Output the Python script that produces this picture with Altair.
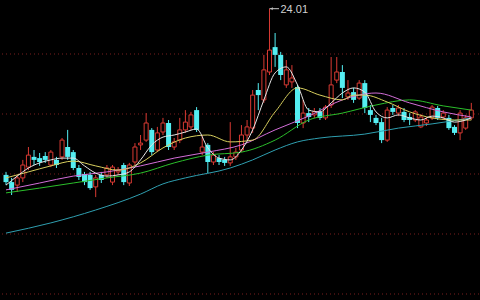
import altair as alt
import pandas as pd

# ---- candle data (one entry per trading day, left to right) ----
opens = [18.47, 18.23, 18.13, 18.37, 18.73, 19.07, 19.03, 19.10, 18.80, 18.97,
         19.07, 19.40, 19.23, 18.70, 18.50, 18.47, 18.07, 18.47, 18.47, 18.23,
         18.57, 18.80, 18.20, 18.90, 19.47, 19.63, 19.97, 19.30, 19.90, 20.20,
         19.40, 19.63, 19.97, 20.07, 20.63, 19.23, 19.47, 18.90, 19.03, 18.97,
         18.87, 19.07, 19.30, 19.80, 20.03, 21.30, 20.97, 21.90, 22.73, 22.47,
         21.47, 21.57, 21.40, 20.20, 20.53, 20.47, 20.57, 20.37, 20.80, 21.63,
         21.90, 21.07, 21.23, 21.03, 21.53, 20.63, 20.37, 20.23, 19.63, 20.70,
         20.53, 20.57, 20.40, 20.30, 20.07, 20.20, 20.37, 20.70, 20.40, 20.37,
         20.07, 19.87, 20.03, 20.37]
highs = [18.57, 18.37, 18.47, 18.97, 19.40, 19.30, 19.20, 19.23, 19.30, 19.07,
         19.70, 19.97, 19.30, 18.80, 18.57, 18.57, 18.47, 18.57, 18.80, 18.80,
         18.73, 18.87, 18.87, 19.53, 19.80, 20.53, 20.03, 20.07, 20.37, 20.30,
         19.70, 20.37, 20.63, 20.57, 20.73, 19.80, 19.53, 19.23, 19.13, 19.07,
         20.23, 19.37, 20.13, 20.30, 21.30, 21.53, 22.47, 24.01, 23.20, 22.57,
         22.30, 22.13, 21.47, 20.97, 20.70, 20.70, 20.70, 20.80, 22.40, 22.40,
         22.13, 21.63, 21.37, 21.63, 21.63, 20.80, 20.47, 20.37, 20.73, 20.80,
         20.80, 20.70, 20.53, 20.63, 20.50, 20.40, 20.80, 20.77, 20.63, 20.47,
         20.13, 20.63, 20.47, 20.87]
lows = [18.13, 17.80, 17.90, 18.23, 18.63, 18.80, 18.77, 18.87, 18.73, 18.70,
        18.97, 18.97, 18.63, 18.30, 18.13, 17.97, 17.73, 18.20, 18.37, 18.13,
        18.47, 18.13, 18.10, 18.80, 19.30, 19.57, 19.13, 19.23, 19.80, 19.30,
        19.30, 19.53, 19.87, 19.97, 19.90, 19.13, 18.53, 18.80, 18.80, 18.77,
        18.77, 18.97, 19.23, 19.63, 19.87, 20.63, 20.87, 21.80, 22.07, 21.63,
        21.37, 21.37, 20.03, 20.03, 20.23, 20.37, 20.30, 20.30, 20.70, 21.53,
        21.03, 20.97, 20.87, 20.97, 20.53, 20.23, 20.13, 19.53, 19.57, 20.47,
        20.43, 20.23, 20.13, 20.23, 20.03, 20.10, 20.30, 20.30, 20.30, 19.97,
        19.80, 19.63, 19.97, 20.30]
closes = [18.23, 17.97, 18.37, 18.80, 19.13, 18.97, 18.90, 18.97, 19.23, 18.80,
          19.63, 19.07, 18.70, 18.40, 18.23, 18.03, 18.37, 18.30, 18.70, 18.73,
          18.63, 18.23, 18.80, 19.40, 19.53, 20.20, 19.23, 19.87, 20.20, 19.40,
          19.57, 19.97, 20.23, 20.47, 19.97, 19.40, 18.90, 19.13, 18.90, 18.87,
          19.07, 19.23, 19.80, 20.07, 21.13, 21.13, 21.97, 22.63, 22.47, 21.80,
          21.97, 21.70, 20.20, 20.53, 20.40, 20.57, 20.37, 20.73, 21.47, 21.90,
          21.37, 21.20, 20.97, 21.53, 20.70, 20.47, 20.20, 19.63, 20.63, 20.57,
          20.70, 20.30, 20.30, 20.57, 20.40, 20.30, 20.73, 20.37, 20.53, 20.03,
          19.87, 20.53, 20.37, 20.63]

# ---- moving averages (day index, value) ----
ma5_idx = [0, 2, 4, 6, 8, 10, 12, 14, 16, 18, 20, 22, 24, 26, 28, 30, 32, 34, 36, 38, 40,
           42, 44, 46, 48, 50, 52, 54, 56, 58, 60, 62, 64, 66, 68, 70, 72, 74, 76, 78, 80, 82, 83]
ma5_val = [18.13, 18.43, 18.70, 18.87, 18.97, 19.03, 19.03, 18.77, 18.53, 18.43, 18.47,
           18.57, 18.97, 19.47, 19.73, 19.80, 19.90, 20.00, 19.37, 19.03, 18.97, 19.30,
           19.97, 20.97, 21.87, 22.07, 21.47, 20.63, 20.57, 20.87, 21.20, 21.37, 21.23,
           20.57, 20.37, 20.47, 20.37, 20.30, 20.43, 20.37, 20.23, 20.30, 20.37]
ma10_idx = [0, 4, 8, 12, 16, 20, 24, 28, 32, 36, 40, 44, 48, 52, 56, 60, 62, 64, 68, 72, 76, 80, 83]
ma10_val = [18.37, 18.57, 18.77, 18.93, 18.77, 18.63, 18.87, 19.37, 19.70, 19.80, 19.57,
            19.63, 20.57, 21.37, 21.13, 20.97, 21.13, 21.13, 20.90, 20.57, 20.37, 20.30, 20.30]
ma20_idx = [0, 6, 12, 18, 24, 30, 36, 42, 48, 54, 60, 66, 72, 78, 83]
ma20_val = [17.97, 18.20, 18.43, 18.57, 18.77, 19.03, 19.23, 19.47, 19.97, 20.43, 20.97,
            21.20, 20.87, 20.57, 20.40]
ma30_idx = [0, 6, 12, 18, 24, 30, 36, 42, 48, 54, 60, 66, 72, 78, 83]
ma30_val = [17.87, 18.03, 18.20, 18.37, 18.53, 18.87, 19.13, 19.23, 19.63, 20.30, 20.53,
            20.80, 20.97, 20.77, 20.63]
ma60_idx = [0, 8, 16, 24, 28, 32, 40, 44, 48, 52, 56, 64, 70, 76, 83]
ma60_val = [16.53, 16.87, 17.30, 17.83, 18.17, 18.37, 18.70, 18.97, 19.30, 19.57, 19.70,
            19.83, 20.03, 20.17, 20.37]

grid_prices = [22.5, 20.5, 18.5, 16.5, 14.5]
peak_label = "24.01"

RED = "#d93a33"
CYAN = "#54eef2"

df = pd.DataFrame({"i": list(range(len(opens))), "o": opens, "h": highs,
                   "l": lows, "c": closes})
df["up"] = df["c"] >= df["o"]

xs = alt.Scale(domain=[0, 83.48], nice=False, zero=False)
ys = alt.Scale(domain=[14.3, 24.3], nice=False, zero=False)

base = alt.Chart(df)

grid = alt.Chart(pd.DataFrame({"p": grid_prices})).mark_rule(
    color="#7a1e1e", strokeWidth=1, strokeDash=[1, 3]
).encode(y=alt.Y("p:Q", scale=ys, axis=None))

wick_up = base.transform_filter("datum.up").mark_rule(color=RED, strokeWidth=1).encode(
    x=alt.X("i:Q", scale=xs, axis=None),
    y=alt.Y("l:Q", scale=ys, axis=None), y2="h:Q")
wick_dn = base.transform_filter("!datum.up").mark_rule(color=CYAN, strokeWidth=1).encode(
    x=alt.X("i:Q", scale=xs, axis=None),
    y=alt.Y("l:Q", scale=ys, axis=None), y2="h:Q")
body_up = base.transform_filter("datum.up").mark_bar(
    size=4, fill="black", stroke=RED, strokeWidth=1, clip=True
).encode(x=alt.X("i:Q", scale=xs, axis=None),
         y=alt.Y("o:Q", scale=ys, axis=None), y2="c:Q")
body_dn = base.transform_filter("!datum.up").mark_bar(
    size=5, color=CYAN, clip=True
).encode(x=alt.X("i:Q", scale=xs, axis=None),
         y=alt.Y("o:Q", scale=ys, axis=None), y2="c:Q")


def ma_line(idx, val, color):
    d = pd.DataFrame({"i": idx, "v": val})
    return alt.Chart(d).mark_line(
        color=color, strokeWidth=1, interpolate="monotone", clip=True
    ).encode(x=alt.X("i:Q", scale=xs, axis=None), y=alt.Y("v:Q", scale=ys, axis=None))


lines = [
    ma_line(ma60_idx, ma60_val, "#2f9fb0"),
    ma_line(ma30_idx, ma30_val, "#2bbf2b"),
    ma_line(ma20_idx, ma20_val, "#d36ed8"),
    ma_line(ma10_idx, ma10_val, "#d8cf5e"),
    ma_line(ma5_idx, ma5_val, "#e6e6e6"),
]

peak = base.transform_filter(f"datum.h == {peak_label}").transform_calculate(
    i2="datum.i + 1.7", txt=f"'{peak_label}'")
arrow = peak.mark_rule(color="#c8c8c8", strokeWidth=1).encode(
    x=alt.X("i:Q", scale=xs, axis=None), x2="i2:Q",
    y=alt.Y("h:Q", scale=ys, axis=None))
head = peak.mark_point(shape="triangle-left", size=10, filled=True, color="#c8c8c8",
                       xOffset=2).encode(
    x=alt.X("i:Q", scale=xs, axis=None), y=alt.Y("h:Q", scale=ys, axis=None))
label = peak.mark_text(align="left", baseline="middle", dx=11, dy=1, fontSize=11,
                       font="Liberation Sans", color="#d0d0d0").encode(
    x=alt.X("i:Q", scale=xs, axis=None), y=alt.Y("h:Q", scale=ys, axis=None),
    text="txt:N")

chart = alt.layer(grid, wick_up, wick_dn, body_up, body_dn, *lines, arrow, head, label).properties(
    width=480, height=300,
    autosize=alt.AutoSizeParams(type="fit", contains="padding"),
    padding=0, background="black",
).configure_view(stroke=None)

chart.save("out.html", embed_options={"renderer": "svg", "actions": False})
